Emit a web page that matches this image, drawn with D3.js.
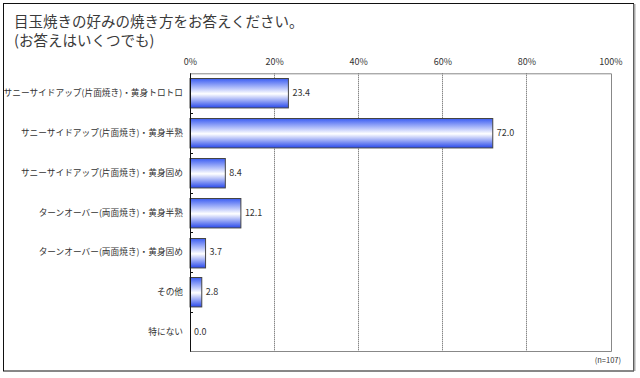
<!DOCTYPE html>
<meta charset="utf-8">
<style>
body { margin: 0; background: #fff; }
text { font-family: "Noto Sans CJK JP", sans-serif; fill: #333; }
.title { font-size: 14.5px; fill: #3a3a3a; }
.cat { font-size: 8.7px; }
.tick text { font-size: 9px; fill: #333; }
.val { font-size: 9px; }
.grid line { stroke: #555; stroke-dasharray: 1,1; }
</style>
<body>
<script src="https://d3js.org/d3.v7.min.js"></script>
<script>

var categories = [
  "サニーサイドアップ(片面焼き)・黄身トロトロ",
  "サニーサイドアップ(片面焼き)・黄身半熟",
  "サニーサイドアップ(片面焼き)・黄身固め",
  "ターンオーバー(両面焼き)・黄身半熟",
  "ターンオーバー(両面焼き)・黄身固め",
  "その他",
  "特にない"
];
var values = [23.4, 72.0, 8.4, 12.1, 3.7, 2.8, 0.0];
var xTicks = [0, 20, 40, 60, 80, 100];
var titleLines = ["目玉焼きの好みの焼き方をお答えください。", "(お答えはいくつでも)"];
var note = "(n=107)";

var width = 640, height = 378;
var plot = {left: 190, right: 610.5, top: 73.3, bottom: 351.7};

var svg = d3.select("body").append("svg")
    .attr("width", width)
    .attr("height", height);

// bar gradient: blue edges, white middle
var grad = svg.append("defs").append("linearGradient")
    .attr("id", "barGrad")
    .attr("x1", 0).attr("y1", 0).attr("x2", 0).attr("y2", 1);
grad.append("stop").attr("offset", "0%").attr("stop-color", "#3a5cf2");
grad.append("stop").attr("offset", "52%").attr("stop-color", "#ffffff");
grad.append("stop").attr("offset", "100%").attr("stop-color", "#2848ea");

// outer frame
svg.append("rect")
    .attr("x", 3.5).attr("y", 3.5)
    .attr("width", 630).attr("height", 367.5)
    .style("fill", "#fff")
    .style("stroke", "#111");
svg.append("line")
    .attr("x1", 634.5).attr("y1", 4)
    .attr("x2", 634.5).attr("y2", 371)
    .style("stroke", "#aaa")
    .style("stroke-width", 2);

svg.append("g").selectAll("text")
    .data(titleLines)
    .enter().append("text")
      .attr("class", "title")
      .attr("x", 14)
      .attr("y", function (d, i) { return 27 + i * 19; })
      .text(function (d) { return d; });

var x = d3.scaleLinear().domain([0, 100]).range([plot.left, plot.right]);
var y = d3.scaleBand().domain(categories)
    .range([plot.top, plot.bottom])
    .paddingInner(0.26)
    .paddingOuter(0.13);

// dotted grid
svg.append("g")
    .attr("class", "grid")
  .selectAll("line")
    .data(xTicks.filter(function (d) { return d > 0 && d < 100; }))
    .enter().append("line")
      .attr("x1", function (d) { return Math.round(x(d)) + 0.5; })
      .attr("x2", function (d) { return Math.round(x(d)) + 0.5; })
      .attr("y1", plot.top)
      .attr("y2", plot.bottom);

// plot frame (top, right, bottom gray; left axis black)
svg.append("path")
    .attr("d", "M" + plot.left + "," + (plot.top + 0.5) + "H" + (Math.round(plot.right) + 0.5) +
               "V" + (Math.round(plot.bottom) - 0.5) + "H" + plot.left)
    .style("fill", "none")
    .style("stroke", "#888");

svg.append("g")
    .attr("transform", "translate(0," + (plot.top - 8) + ")")
    .call(d3.axisTop(x).tickValues(xTicks).tickSize(0).tickPadding(0)
        .tickFormat(function (d) { return d + "%"; }))
    .call(function (g) { g.select(".domain").remove(); });

// bars
svg.append("g").selectAll("rect")
    .data(values)
    .enter().append("rect")
      .attr("x", x(0))
      .attr("y", function (d, i) { return Math.round(y(categories[i])) + 0.5; })
      .attr("width", function (d) { return x(d) - x(0); })
      .attr("height", y.bandwidth())
      .style("fill", "url(#barGrad)")
      .style("stroke", function (d) { return d > 0 ? "#444" : "none"; })
      .style("stroke-width", 1);

svg.append("g").selectAll("text")
    .data(values)
    .enter().append("text")
      .attr("class", "val")
      .attr("x", function (d) { return x(d) + 4; })
      .attr("y", function (d, i) { return y(categories[i]) + y.bandwidth() / 2; })
      .attr("dy", "0.35em")
      .text(function (d) { return d.toFixed(1); });

// category labels
svg.append("g").selectAll("text")
    .data(categories)
    .enter().append("text")
      .attr("class", "cat")
      .attr("x", plot.left - 7)
      .attr("y", function (d) { return y(d) + y.bandwidth() / 2; })
      .attr("dy", "0.35em")
      .style("text-anchor", "end")
      .text(function (d) { return d; });

// left axis with inner ticks between categories
svg.append("line")
    .attr("x1", plot.left + 0.5).attr("x2", plot.left + 0.5)
    .attr("y1", plot.top).attr("y2", plot.bottom)
    .style("stroke", "#111");
svg.append("g").selectAll("line")
    .data(categories.slice(1))
    .enter().append("line")
      .attr("x1", plot.left).attr("x2", plot.left + 3)
      .attr("y1", function (d) { return Math.round(y(d) - y.step() * y.paddingInner() / 2) + 0.5; })
      .attr("y2", function (d) { return Math.round(y(d) - y.step() * y.paddingInner() / 2) + 0.5; })
      .style("stroke", "#111");

svg.append("text")
    .attr("x", 621)
    .attr("y", 363)
    .style("font-size", "7.5px")
    .style("text-anchor", "end")
    .text(note);

</script>
</body>
